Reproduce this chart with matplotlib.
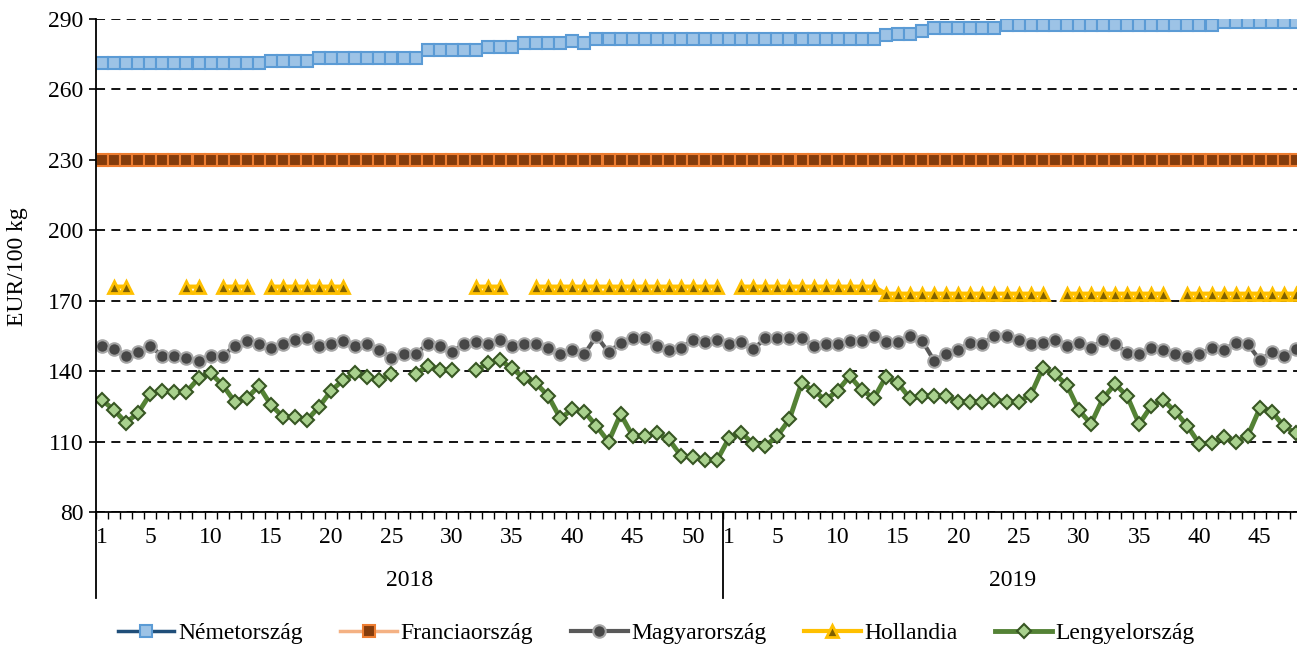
import numpy as np
import matplotlib
matplotlib.use('Agg')
import matplotlib.pyplot as plt
import matplotlib.transforms as mtransforms
from matplotlib.lines import Line2D

plt.rcParams['font.family'] = ['Liberation Serif', 'DejaVu Serif']
plt.rcParams['font.size'] = 17

nan = np.nan

# categories: 2018 weeks 1-52, 2019 weeks 1-48
years = ['2018', '2019']
weeks_per_year = [52, 48]
tick_weeks = {'2018': [1, 5, 10, 15, 20, 25, 30, 35, 40, 45, 50],
              '2019': [1, 5, 10, 15, 20, 25, 30, 35, 40, 45]}

nemetorszag = [
    271.1, 271.1, 271.1, 271.1, 271.1, 271.1, 271.1, 271.1, 271.1, 271.1,
    271.1, 271.1, 271.1, 271.1, 272.1, 272.1, 272.1, 272.1, 273.6, 273.6,
    273.6, 273.6, 273.6, 273.6, 273.6, 273.6, 273.6, 277.0, 277.0, 277.0,
    277.0, 277.0, 277.9, 277.9, 277.9, 279.6, 279.6, 279.6, 279.6, 280.6,
    279.6, 281.3, 281.3, 281.3, 281.3, 281.3, 281.3, 281.3, 281.3, 281.3,
    281.3, 281.3, 281.3, 281.3, 281.3, 281.3, 281.3, 281.3, 281.3, 281.3,
    281.3, 281.3, 281.3, 281.3, 281.3, 283.1, 283.8, 283.8, 284.8, 286.3,
    286.3, 286.3, 286.3, 286.3, 286.3, 287.4, 287.4, 287.4, 287.4, 287.4,
    287.4, 287.4, 287.4, 287.4, 287.4, 287.4, 287.4, 287.4, 287.4, 287.4,
    287.4, 287.4, 287.4, 288.8, 288.8, 288.8, 288.8, 288.8, 288.8, 288.8,
]

franciaorszag = [
    230, 230, 230, 230, 230, 230, 230, 230, 230, 230,
    230, 230, 230, 230, 230, 230, 230, 230, 230, 230,
    230, 230, 230, 230, 230, 230, 230, 230, 230, 230,
    230, 230, 230, 230, 230, 230, 230, 230, 230, 230,
    230, 230, 230, 230, 230, 230, 230, 230, 230, 230,
    230, 230, 230, 230, 230, 230, 230, 230, 230, 230,
    230, 230, 230, 230, 230, 230, 230, 230, 230, 230,
    230, 230, 230, 230, 230, 230, 230, 230, 230, 230,
    230, 230, 230, 230, 230, 230, 230, 230, 230, 230,
    230, 230, 230, 230, 230, 230, 230, 230, 230, 230,
]

magyarorszag = [
    150.7, 149.4, 146.4, 148.3, 150.8, 146.4, 146.4, 145.5, 144.4, 146.6,
    146.4, 150.8, 153.0, 151.6, 149.7, 151.6, 153.3, 154.0, 150.7, 151.6,
    153.0, 150.7, 151.6, 149.0, 145.5, 147.3, 147.3, 151.6, 150.7, 148.0,
    151.6, 152.3, 151.6, 153.3, 150.7, 151.6, 151.6, 149.7, 147.3, 149.0,
    147.3, 155.0, 148.0, 152.1, 154.0, 154.0, 150.7, 149.0, 149.7, 153.3,
    152.5, 153.3, 151.6, 152.3, 149.3, 154.0, 154.0, 154.0, 154.0, 150.7,
    151.6, 151.6, 153.0, 153.0, 155.0, 152.5, 152.5, 155.0, 153.0, 144.4,
    147.3, 149.0, 152.1, 151.6, 155.0, 155.0, 153.2, 151.6, 152.1, 153.3,
    150.7, 152.1, 149.7, 153.3, 151.6, 147.9, 147.3, 149.7, 149.0, 147.3,
    145.9, 147.3, 149.7, 149.0, 152.1, 151.6, 144.7, 148.0, 146.4, 149.3,
]

hollandia = [
    nan, 176, 176, nan, nan, nan, nan, 176, 176, nan,
    176, 176, 176, nan, 176, 176, 176, 176, 176, 176,
    176, nan, nan, nan, nan, nan, nan, nan, nan, nan,
    nan, 176, 176, 176, nan, nan, 176, 176, 176, 176,
    176, 176, 176, 176, 176, 176, 176, 176, 176, 176,
    176, 176, nan, 176, 176, 176, 176, 176, 176, 176,
    176, 176, 176, 176, 176, 173, 173, 173, 173, 173,
    173, 173, 173, 173, 173, 173, 173, 173, 173, nan,
    173, 173, 173, 173, 173, 173, 173, 173, 173, nan,
    173, 173, 173, 173, 173, 173, 173, 173, 173, 173,
]

lengyelorszag = [
    127.7, 123.4, 118.0, 122.3, 130.3, 131.7, 131.2, 131.2, 136.9, 139.1,
    134.1, 127.0, 128.4, 133.7, 125.6, 120.6, 120.6, 119.2, 124.8, 131.7,
    136.2, 139.1, 137.6, 136.2, 138.8, nan, 138.8, 142.2, 140.5, 140.5,
    nan, 140.5, 143.3, 144.7, 141.2, 136.9, 134.8, 129.4, 119.9, 123.7,
    122.7, 116.6, 109.9, 121.7, 112.4, 112.4, 113.5, 111.0, 103.9, 103.3,
    102.1, 102.1, 111.6, 113.8, 109.0, 108.1, 112.4, 119.5, 134.8, 131.7,
    127.7, 131.7, 137.9, 132.0, 128.4, 137.6, 134.8, 128.4, 129.4, 129.4,
    129.4, 127.0, 127.0, 127.0, 127.7, 127.0, 127.0, 129.8, 141.2, 138.8,
    134.1, 123.4, 117.5, 128.4, 134.5, 129.4, 117.5, 125.1, 127.7, 122.7,
    116.6, 109.0, 109.5, 111.8, 109.9, 112.4, 124.2, 122.7, 116.6, 113.5,
]

n = sum(weeks_per_year)
x = np.arange(n)

fig = plt.figure(figsize=(12.97, 6.47), dpi=100)
ax = fig.add_axes([96 / 1297, 135 / 647, 1206 / 1297, 493 / 647])

ax.plot(x, nemetorszag, color='#1F4E79', lw=2.5, marker='s', ms=8.5,
        mfc='#9DC3E6', mec='#5B9BD5', mew=1.5, label='Németország')
ax.plot(x, franciaorszag, color='#F4B183', lw=2.5, marker='s', ms=8.3,
        mfc='#843C0C', mec='#ED7D31', mew=1.5, label='Franciaország')
ax.plot(x, magyarorszag, color='#595959', lw=3, marker='o', ms=9,
        mfc='#474747', mec='#A6A6A6', mew=1.5, label='Magyarország')
ax.plot(x, hollandia, color='#FFC000', lw=3, marker='^', ms=9,
        mfc='#7F6000', mec='#FFC000', mew=2, label='Hollandia')
ax.plot(x, lengyelorszag, color='#548235', lw=3.5, marker='D', ms=7.5,
        mfc='#A9D18E', mec='#375623', mew=1.5, label='Lengyelország')

ax.set_xlim(-0.5, n - 0.5)
ax.set_ylim(80, 290)
ax.set_yticks(range(80, 291, 30))
ax.set_axisbelow(True)
ax.yaxis.grid(True, linestyle=(0, (5, 3.5)), color='black', lw=1.3)

for s in ['top', 'right']:
    ax.spines[s].set_visible(False)
ax.spines['left'].set_linewidth(1.3)
ax.spines['bottom'].set_linewidth(1.3)

ax.tick_params(axis='y', direction='out', length=5, width=1.2, pad=4)

# week labels
pos, labs = [], []
offset = 0
for yr, nw in zip(years, weeks_per_year):
    for w in tick_weeks[yr]:
        pos.append(offset + w - 1)
        labs.append(str(w))
    offset += nw
ax.set_xticks(pos)
ax.set_xticklabels(labs)
ax.set_xticks(np.arange(-0.5, n, 1), minor=True)
ax.tick_params(axis='x', which='major', length=0, pad=11)
ax.tick_params(axis='x', which='minor', direction='out', length=5, width=1)

# year labels and separators
trans = mtransforms.blended_transform_factory(ax.transData, ax.transAxes)
offset = 0
for yr, nw in zip(years, weeks_per_year):
    ax.text(offset + (nw - 1) / 2, -0.138, yr, transform=trans,
            ha='center', va='center')
    ax.add_line(Line2D([offset - 0.5, offset - 0.5], [0, -0.175], transform=trans,
                       color='black', lw=1.3, clip_on=False))
    offset += nw

fig.text(18 / 1297, 1 - 267 / 647, 'EUR/100 kg', rotation=90, ha='center', va='center')

handles, labels = ax.get_legend_handles_labels()
fig.legend(handles, labels, loc='center', bbox_to_anchor=(0.506, 1 - 633 / 647),
           ncol=5, frameon=False, handlelength=2.4, columnspacing=1.6,
           handletextpad=0.15)

fig.savefig('out.png', dpi=100)
